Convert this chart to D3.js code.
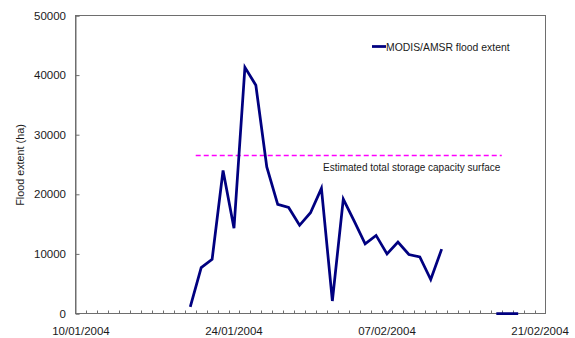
<!DOCTYPE html>
<html>
<head>
<meta charset="utf-8">
<script src="https://cdn.jsdelivr.net/npm/d3@7"></script>
<style>
  body { margin: 0; background: #fff; }
  text { font-family: "Liberation Sans", Arial, sans-serif; fill: #1a1a1a; }
</style>
</head>
<body>
<svg id="chart" width="575" height="338"></svg>
<script>
// Daily observation window
const startDate = "2004-01-10";
const dayCount = 43;

// Flood extent (ha) per day; null = no observation
const floodExtent = [
  null, null, null, null, null, null, null, null, null, null,
  1100, 7700, 9100, 24000, 14300, 41300, 38300, 24600, 18300, 17800,
  14800, 16900, 21000, 2100, 19200, 15500, 11700, 13100, 10000, 12000,
  9900, 9500, 5700, 10800, null, null, null, null, 0, 0,
  0, null, null
];

// Estimated total storage capacity surface (ha) and the span it is drawn over
const capacityLevel = 26500;
const capacitySpan = ["2004-01-21", "2004-02-18"];

const yTicks = [0, 10000, 20000, 30000, 40000, 50000];
const xLabelDates = ["2004-01-10", "2004-01-24", "2004-02-07", "2004-02-21"];

const seriesName = "MODIS/AMSR flood extent";
const capacityName = "Estimated total storage capacity surface";
const yTitle = "Flood extent (ha)";

const parse = d3.utcParse("%Y-%m-%d");
const fmt = d3.utcFormat("%d/%m/%Y");
const start = parse(startDate);
const days = d3.utcDay.range(start, d3.utcDay.offset(start, dayCount));

const plot = { left: 75.5, right: 545.5, top: 15.5, bottom: 313.5 };

const x = d3.scaleBand()
  .domain(days.map(d => +d))
  .range([plot.left, plot.right])
  .paddingInner(0).paddingOuter(0);

const y = d3.scaleLinear()
  .domain([0, 50000])
  .range([plot.bottom, plot.top]);

const svg = d3.select("#chart");
const axisColor = "#6e6e6e";

// Plot frame
svg.append("rect")
  .attr("x", plot.left).attr("y", plot.top)
  .attr("width", plot.right - plot.left)
  .attr("height", plot.bottom - plot.top)
  .attr("fill", "none").attr("stroke", axisColor).attr("stroke-width", 1);

// Y axis: inward ticks, labels to the left
const yAxis = d3.axisRight(y).tickValues(yTicks).tickSize(4).tickFormat("");
svg.append("g")
  .attr("transform", `translate(${plot.left},0)`)
  .call(yAxis)
  .call(g => g.select(".domain").attr("stroke", axisColor))
  .call(g => g.selectAll(".tick line").attr("stroke", axisColor));

svg.append("g").selectAll("text")
  .data(yTicks)
  .join("text")
  .attr("x", 66)
  .attr("y", d => y(d) + 4)
  .attr("text-anchor", "end")
  .style("font-size", "11.5px")
  .text(d => d);

// X axis: small inward ticks on each day boundary
const boundaries = days.slice(1);
svg.append("g").selectAll("line")
  .data(boundaries)
  .join("line")
  .attr("x1", d => Math.round(x(+d)) + 0.5)
  .attr("x2", d => Math.round(x(+d)) + 0.5)
  .attr("y1", plot.bottom)
  .attr("y2", plot.bottom - 3)
  .attr("stroke", axisColor)
  .attr("stroke-width", 1);

svg.append("g").selectAll("text")
  .data(xLabelDates.map(parse))
  .join("text")
  .attr("x", d => x(+d) + x.bandwidth() / 2)
  .attr("y", 335)
  .attr("text-anchor", "middle")
  .style("font-size", "11.5px")
  .text(d => fmt(d));

// Y axis title
svg.append("text")
  .attr("transform", `translate(23.5,165) rotate(-90)`)
  .attr("text-anchor", "middle")
  .style("font-size", "10.8px")
  .text(yTitle);

// Storage capacity reference line
const span = capacitySpan.map(parse);
svg.append("line")
  .attr("x1", x(+span[0]))
  .attr("x2", x(+span[1]))
  .attr("y1", y(capacityLevel))
  .attr("y2", y(capacityLevel))
  .attr("stroke", "#ff00ff")
  .attr("stroke-width", 1.4)
  .attr("stroke-dasharray", "5,3");

svg.append("text")
  .attr("x", 323)
  .attr("y", 171)
  .style("font-size", "10px")
  .text(capacityName);

// Flood extent series
const series = days.map((d, i) => ({ date: d, value: floodExtent[i] }));
const line = d3.line()
  .defined(d => d.value !== null)
  .x(d => x(+d.date) + x.bandwidth() / 2)
  .y(d => y(d.value));

svg.append("path")
  .datum(series)
  .attr("d", line)
  .attr("fill", "none")
  .attr("stroke", "#000080")
  .attr("stroke-width", 2.75)
  .attr("stroke-linejoin", "miter")
  .attr("stroke-miterlimit", 4);

// Legend
svg.append("line")
  .attr("x1", 372).attr("x2", 386)
  .attr("y1", 46.5).attr("y2", 46.5)
  .attr("stroke", "#000080").attr("stroke-width", 2.75);
svg.append("text")
  .attr("x", 386)
  .attr("y", 50.5)
  .style("font-size", "10.4px")
  .text(seriesName);
</script>
</body>
</html>
